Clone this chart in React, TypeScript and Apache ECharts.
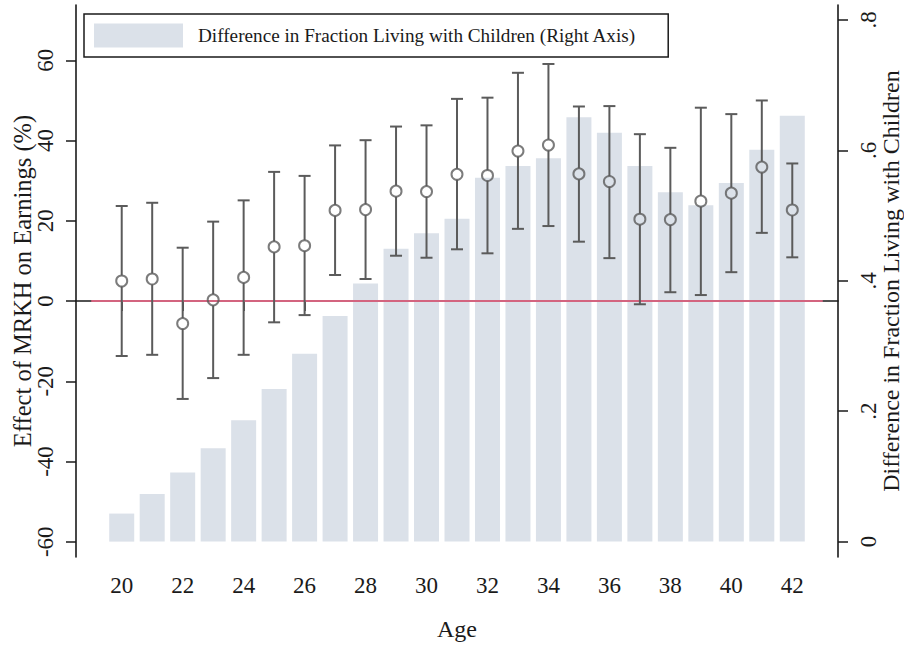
import React, { useEffect, useRef } from 'react';
import * as echarts from 'echarts';

const ages = [20, 21, 22, 23, 24, 25, 26, 27, 28, 29, 30, 31, 32, 33, 34, 35, 36, 37, 38, 39, 40, 41, 42];
// effect of MRKH on earnings (%), with confidence interval
const estimates = [5.0, 5.5, -5.6, 0.3, 5.9, 13.5, 13.8, 22.6, 22.8, 27.4, 27.3, 31.6, 31.3, 37.4, 38.9, 31.7, 29.8, 20.4, 20.3, 24.9, 26.9, 33.4, 22.7];
const ciLow = [-13.7, -13.4, -24.4, -19.2, -13.4, -5.3, -3.5, 6.5, 5.5, 11.3, 10.8, 12.9, 11.9, 18.0, 18.7, 14.8, 10.7, -0.8, 2.2, 1.5, 7.2, 17.0, 10.9];
const ciHigh = [23.7, 24.5, 13.3, 19.8, 25.1, 32.2, 31.2, 38.8, 40.1, 43.5, 43.8, 50.4, 50.7, 56.9, 59.1, 48.5, 48.6, 41.6, 38.2, 48.2, 46.6, 50.0, 34.3];
// difference in fraction living with children (right axis)
const fracDiff = [0.043, 0.073, 0.106, 0.143, 0.186, 0.234, 0.288, 0.346, 0.396, 0.449, 0.473, 0.495, 0.558, 0.576, 0.588, 0.651, 0.627, 0.576, 0.536, 0.516, 0.55, 0.601, 0.653];

const xTicks = [20, 22, 24, 26, 28, 30, 32, 34, 36, 38, 40, 42];
const leftTicks = [-60, -40, -20, 0, 20, 40, 60];
const rightTicks = [0, 0.2, 0.4, 0.6, 0.8];
const zeroLine = [19, 43];

const FONT = '"Liberation Serif", "Times New Roman", serif';
const INK = '#1a1a1a';
const GREY = '#5b5b5b';
const BAR = '#dbe1e9';
const LEGEND_NAME = 'Difference in Fraction Living with Children (Right Axis)';

const App: React.FC = () => {
    const chartRef = useRef<HTMLDivElement>(null);

    useEffect(() => {
        if (!chartRef.current) return;
        const chart = echarts.init(chartRef.current, undefined, { renderer: 'svg' });

        const axisLine = { show: true, lineStyle: { color: INK, width: 1.6 } };
        const axisTick = { show: true, length: 10, lineStyle: { color: INK, width: 1.5 } };

        const option = {
            animation: false,
            backgroundColor: '#ffffff',
            textStyle: { fontFamily: FONT },
            grid: { left: 76, right: 66, top: 5, bottom: 91, containLabel: false, outerBoundsMode: 'none' },
            legend: {
                data: [LEGEND_NAME],
                left: 84,
                top: 14,
                padding: [9.5, 32, 9.5, 10],
                borderColor: INK,
                borderWidth: 1.5,
                itemWidth: 89,
                itemHeight: 24,
                icon: 'rect',
                textStyle: { fontFamily: FONT, fontSize: 19.2, color: INK, padding: [0, 0, 0, 10] },
            },
            xAxis: {
                type: 'value',
                min: 18.5,
                max: 43.5,
                name: 'Age',
                nameLocation: 'middle',
                nameGap: 60,
                nameMoveOverlap: false,
                nameTextStyle: { fontFamily: FONT, fontSize: 24, color: INK },
                axisLine,
                axisTick: { ...axisTick, customValues: xTicks },
                axisLabel: { customValues: xTicks, fontFamily: FONT, fontSize: 23, color: INK, margin: 17 },
                splitLine: { show: false },
            },
            yAxis: [
                {
                    type: 'value',
                    position: 'left',
                    min: -63.8,
                    max: 73.8,
                    name: 'Effect of MRKH on Earnings (%)',
                    nameLocation: 'middle',
                    nameGap: 41,
                    nameMoveOverlap: false,
                    nameTextStyle: { fontFamily: FONT, fontSize: 24.5, color: INK },
                    axisLine,
                    axisTick: { ...axisTick, customValues: leftTicks },
                    axisLabel: { customValues: leftTicks, rotate: 90, fontFamily: FONT, fontSize: 23, color: INK, margin: 19 },
                    splitLine: { show: false },
                },
                {
                    type: 'value',
                    position: 'right',
                    min: -0.0236,
                    max: 0.823,
                    name: 'Difference in Fraction Living with Children',
                    nameLocation: 'middle',
                    nameGap: 41,
                    nameMoveOverlap: false,
                    nameTextStyle: { fontFamily: FONT, fontSize: 24, color: INK },
                    axisLine,
                    axisTick: { ...axisTick, customValues: rightTicks },
                    axisLabel: {
                        customValues: rightTicks,
                        rotate: 90,
                        fontFamily: FONT,
                        fontSize: 23,
                        color: INK,
                        margin: 19,
                        formatter: (v: number) => (v === 0 ? '0' : v.toFixed(1).replace(/^0/, '')),
                    },
                    splitLine: { show: false },
                },
            ],
            series: [
                {
                    name: LEGEND_NAME,
                    type: 'bar',
                    yAxisIndex: 1,
                    z: 1,
                    barWidth: 25,
                    itemStyle: { color: BAR },
                    data: ages.map((a, i) => [a, fracDiff[i]]),
                },
                {
                    type: 'line',
                    yAxisIndex: 0,
                    z: 2,
                    symbol: 'none',
                    lineStyle: { color: '#d3647f', width: 2 },
                    data: zeroLine.map((a) => [a, 0]),
                    silent: true,
                },
                {
                    type: 'custom',
                    yAxisIndex: 0,
                    z: 3,
                    encode: { x: 0, y: [1, 2] },
                    data: ages.map((a, i) => [a, ciLow[i], ciHigh[i], estimates[i]]),
                    renderItem: (params: any, api: any) => {
                        const x = api.value(0);
                        const lo = api.coord([x, api.value(1)]);
                        const hi = api.coord([x, api.value(2)]);
                        const mid = api.coord([x, api.value(3)]);
                        const r = 5.5;
                        const cap = 6;
                        const style = { stroke: GREY, lineWidth: 2 };
                        return {
                            type: 'group',
                            children: [
                                { type: 'line', shape: { x1: hi[0], y1: hi[1], x2: hi[0], y2: mid[1] - r }, style },
                                { type: 'line', shape: { x1: lo[0], y1: mid[1] + r, x2: lo[0], y2: lo[1] }, style },
                                { type: 'line', shape: { x1: hi[0] - cap, y1: hi[1], x2: hi[0] + cap, y2: hi[1] }, style },
                                { type: 'line', shape: { x1: lo[0] - cap, y1: lo[1], x2: lo[0] + cap, y2: lo[1] }, style },
                            ],
                        };
                    },
                },
                {
                    type: 'scatter',
                    yAxisIndex: 0,
                    z: 4,
                    symbol: 'circle',
                    symbolSize: 11,
                    itemStyle: { color: 'rgba(0,0,0,0)', borderColor: GREY, borderWidth: 2 },
                    data: ages.map((a, i) => [a, estimates[i]]),
                },
            ],
        };

        chart.setOption(option);
        return () => {
            chart.dispose();
        };
    }, []);

    return (
        <div
            ref={chartRef}
            style={{ position: 'absolute', left: 0, top: 0, width: '904px', height: '648px' }}
        />
    );
};

export default App;
